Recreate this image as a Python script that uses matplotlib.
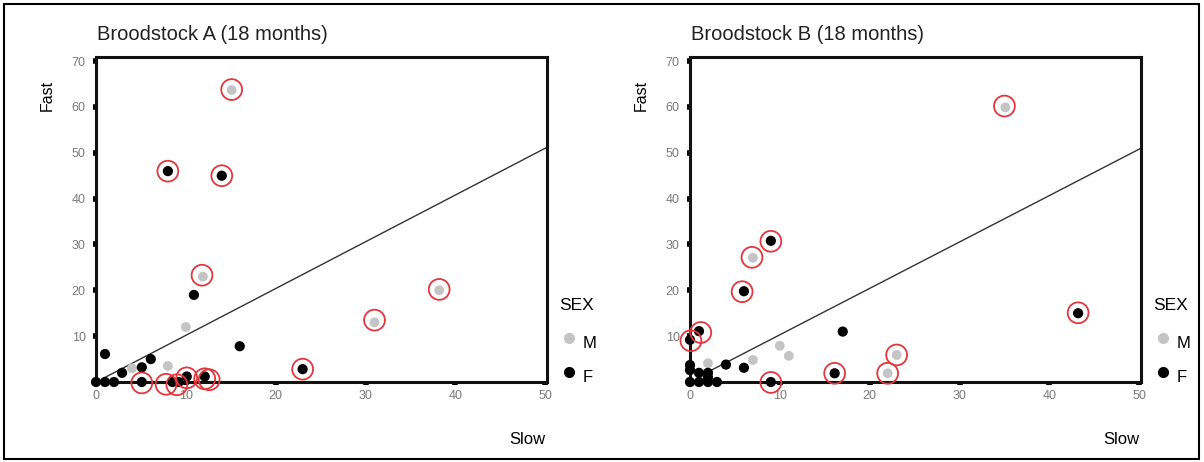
import numpy as np
import matplotlib.pyplot as plt
from matplotlib.patches import Rectangle

plt.rcParams['font.family'] = ['Liberation Sans', 'DejaVu Sans']

# Broodstock A: (slow, fast) counts
a_m_x = [15.1, 11.9, 38.2, 31.0, 10.0, 8.0, 4.0]
a_m_y = [63.7, 23.0, 20.0, 13.0, 12.0, 3.5, 3.0]
a_f_x = [8.0, 14.0, 10.9, 16.0, 1.0, 6.1, 5.1, 2.9, 23.0, 0.0, 1.0, 2.0, 5.1, 8.5, 9.2, 10.1, 12.1]
a_f_y = [46.0, 45.0, 19.0, 7.8, 6.1, 5.0, 3.2, 2.0, 2.8, 0.0, 0.0, 0.0, 0.0, 0.0, 0.0, 1.2, 1.2]
a_hi_x = [15.1, 8.0, 14.0, 11.8, 38.2, 31.0, 23.0, 5.1, 7.8, 9.0, 10.1, 12.1, 12.6]
a_hi_y = [63.8, 46.0, 45.0, 23.3, 20.2, 13.5, 2.8, -0.2, -0.5, -0.6, 0.9, 0.7, 0.5]

# Broodstock B
b_m_x = [35.1, 7.0, 10.0, 11.0, 7.0, 2.0, 22.0, 23.0, 0.0]
b_m_y = [59.9, 27.1, 7.9, 5.7, 4.8, 4.1, 1.9, 5.9, 0.0]
b_f_x = [43.2, 9.0, 6.0, 17.0, 6.0, 4.0, 9.0, 16.1, 1.0, 0.0, 0.0, 0.0, 1.0, 2.0, 2.0, 0.0, 1.0, 2.0, 3.0]
b_f_y = [15.0, 30.8, 19.8, 11.0, 3.1, 3.8, 0.0, 1.9, 11.1, 9.2, 3.7, 2.6, 2.0, 2.0, 1.0, 0.0, 0.0, 0.0, 0.0]
b_hi_x = [35.0, 43.2, 9.0, 6.9, 5.8, 1.2, 0.1, 9.0, 16.1, 22.0, 23.0]
b_hi_y = [60.2, 15.1, 30.7, 27.2, 19.7, 10.8, 9.0, -0.1, 1.9, 1.9, 5.9]

# reference line
a_line_x = [1.0, 50.2]
a_line_y = [1.0, 51.2]
b_line_x = [2.0, 50.2]
b_line_y = [2.2, 51.0]

xticks = [0, 10, 20, 30, 40, 50]
yticks = [10, 20, 30, 40, 50, 60, 70]

panels = [
    ("Broodstock A (18 months)", a_m_x, a_m_y, a_f_x, a_f_y, a_hi_x, a_hi_y, a_line_x, a_line_y, 96),
    ("Broodstock B (18 months)", b_m_x, b_m_y, b_f_x, b_f_y, b_hi_x, b_hi_y, b_line_x, b_line_y, 690),
]

W, H = 1204, 462
fig = plt.figure(figsize=(W / 100, H / 100), dpi=100)
fig.patches.append(Rectangle((4 / W, 3 / H), 1195 / W, 455 / H, transform=fig.transFigure,
                             fill=False, edgecolor='black', linewidth=1.5))

for title, mx, my, fx, fy, hx, hy, lx, ly, left in panels:
    ax = fig.add_axes([left / W, (H - 382) / H, 451 / W, 325 / H])
    ax.set_xlim(0, 50.2)
    ax.set_ylim(0, 70.9)
    ax.plot(lx, ly, color='#333333', linewidth=1.0, zorder=2)
    ax.scatter(mx, my, s=50, color='#c4c4c4', edgecolors='none', zorder=3, clip_on=False)
    ax.scatter(fx, fy, s=54, color='black', edgecolors='none', zorder=4, clip_on=False)
    ax.scatter(hx, hy, s=225, facecolors='none', edgecolors='#e2373c', linewidths=1.3,
               zorder=5, clip_on=False)
    for sp in ax.spines.values():
        sp.set_linewidth(2.2)
        sp.set_color('#111111')
    ax.set_xticks(xticks)
    ax.set_yticks(yticks)
    ax.tick_params(direction='out', length=2.5, width=4, color='black',
                   labelsize=9, labelcolor='#7a7a7a')
    ax.tick_params(axis='y', pad=5)
    ax.tick_params(axis='x', pad=3)

    x0 = left / W
    fig.text(x0 + 1 / W, 1 - 34 / H, title, fontsize=14.5, color='#222222', ha='left', va='center')
    fig.text((left - 49) / W, 1 - 95 / H, "Fast", fontsize=11.5, rotation=90,
             ha='center', va='center')
    fig.text((left + 431) / W, 1 - 439 / H, "Slow", fontsize=12, ha='center', va='center')
    fig.text((left + 463) / W, 1 - 306 / H, "SEX", fontsize=12.5, ha='left', va='center')
    fig.text((left + 487) / W, 1 - 344 / H, "M", fontsize=12, ha='left', va='center')
    fig.text((left + 487) / W, 1 - 378 / H, "F", fontsize=12, ha='left', va='center')
    fig.lines.append(plt.Line2D([(left + 473) / W], [1 - 338 / H], transform=fig.transFigure,
                                marker='o', markersize=7, color='#c4c4c4', linestyle='none'))
    fig.lines.append(plt.Line2D([(left + 473) / W], [1 - 372 / H], transform=fig.transFigure,
                                marker='o', markersize=7, color='black', linestyle='none'))

fig.savefig("out.png", dpi=100)
